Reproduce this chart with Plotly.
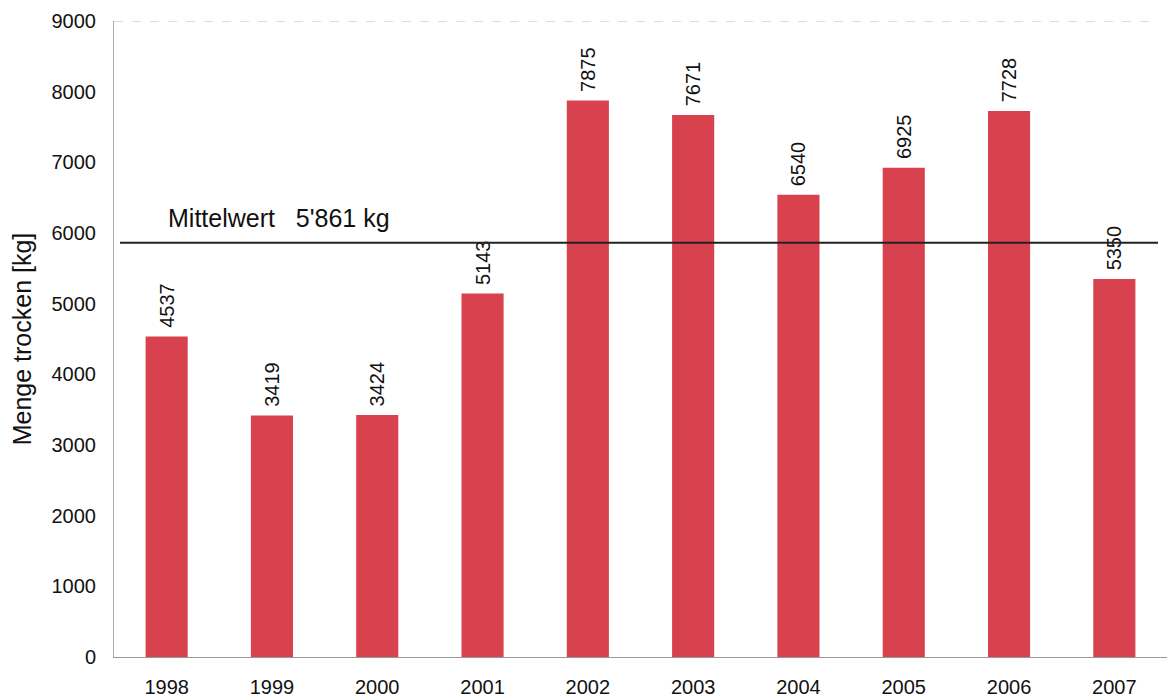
import plotly.graph_objects as go

years = ["1998", "1999", "2000", "2001", "2002", "2003", "2004", "2005", "2006", "2007"]
values = [4537, 3419, 3424, 5143, 7875, 7671, 6540, 6925, 7728, 5350]
mean_value = 5861
mean_label = "Mittelwert   5'861 kg"
y_ticks = [0, 1000, 2000, 3000, 4000, 5000, 6000, 7000, 8000, 9000]

FONT = "Arial, Liberation Sans"

fig = go.Figure()
fig.add_trace(go.Bar(
    x=years, y=values, width=0.4,
    marker=dict(color="#d8424f", line=dict(width=0)),
    text=["\u00a0" + str(v) for v in values], textposition="outside", textangle=-90,
    constraintext="none",
    textfont=dict(size=20, color="#111111", family=FONT),
    cliponaxis=False,
))
fig.add_shape(type="line", xref="x", yref="y", x0=-0.443, x1=9.414, y0=mean_value, y1=mean_value,
              line=dict(color="#222222", width=2))
fig.add_annotation(x=-0.01, y=mean_value, xref="x", yref="y", text=mean_label, showarrow=False,
                   xanchor="left", yanchor="bottom", yshift=9,
                   font=dict(size=25, color="#111111", family=FONT))
fig.add_shape(type="line", xref="paper", yref="y", x0=0, x1=0.985, y0=9000, y1=9000,
              line=dict(color="#bbbbbb", width=1, dash="dash"))

fig.update_layout(
    width=1167, height=699,
    margin=dict(l=114, r=0, t=21, b=42),
    plot_bgcolor="white", paper_bgcolor="white",
    showlegend=False,
    font=dict(family=FONT, size=20, color="#111111"),
    xaxis=dict(range=[-0.5, 9.5], showline=True, linecolor="#999999", linewidth=1,
               ticks="", tickfont=dict(size=20), showgrid=False, ticklabelstandoff=12),
    yaxis=dict(range=[0, 9000], tickvals=y_ticks, showline=True, linecolor="#aaaaaa",
               linewidth=1, showgrid=False, ticks="", tickfont=dict(size=20),
               ticklabelstandoff=13,
               title=dict(text="Menge trocken [kg]", font=dict(size=25), standoff=12)),
    bargap=0.6,
)
fig.write_html("out.html")
